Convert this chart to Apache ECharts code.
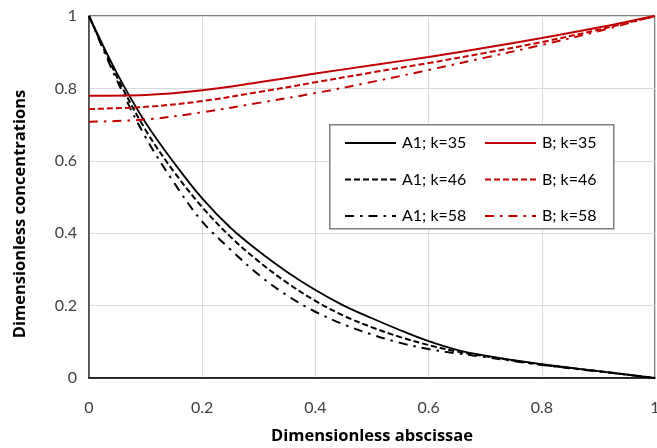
<!DOCTYPE html>
<html><head><meta charset="utf-8">
<script src="https://cdn.jsdelivr.net/npm/echarts@6/dist/echarts.min.js"></script>
<style>html,body{margin:0;padding:0;background:#fff}#c{width:657px;height:448px}</style>
</head><body><div id="c"></div>
<script>
var xA = [0, 0.05, 0.1, 0.15, 0.2, 0.25, 0.3, 0.35, 0.4, 0.45, 0.5, 0.55, 0.6, 0.65, 0.7, 0.8, 0.9, 1];
var a35 = [1, 0.84, 0.705, 0.595, 0.496, 0.415, 0.35, 0.293, 0.243, 0.2, 0.165, 0.132, 0.102, 0.078, 0.062, 0.038, 0.019, 0];
var a46 = [1, 0.83, 0.685, 0.57, 0.472, 0.39, 0.322, 0.263, 0.213, 0.172, 0.14, 0.113, 0.091, 0.073, 0.06, 0.037, 0.019, 0];
var a58 = [1, 0.82, 0.665, 0.54, 0.432, 0.355, 0.285, 0.228, 0.183, 0.148, 0.12, 0.097, 0.08, 0.068, 0.058, 0.036, 0.018, 0];
var xB = [0, 0.1, 0.2, 0.3, 0.4, 0.5, 0.6, 0.7, 0.8, 0.9, 1];
var b35 = [0.78, 0.782, 0.795, 0.817, 0.841, 0.864, 0.887, 0.912, 0.939, 0.968, 1];
var b46 = [0.743, 0.749, 0.765, 0.79, 0.817, 0.844, 0.87, 0.898, 0.928, 0.962, 1];
var b58 = [0.708, 0.714, 0.734, 0.76, 0.787, 0.818, 0.851, 0.885, 0.92, 0.958, 1];
var names = ['A1; k=35', 'A1; k=46', 'A1; k=58', 'B; k=35', 'B; k=46', 'B; k=58'];
var xTitle = 'Dimensionless abscissae';
var yTitle = 'Dimensionless concentrations';

function pairs(xs, ys) { return xs.map(function (x, i) { return [x, ys[i]]; }); }
var FONT = 'Lato';
var TFONT = 'Open Sans';
var RED = '#c00000';
var dashT = [6, 3];
var dashDotT = [9, 6, 2.5, 6];
function mk(name, xs, ys, color, type, w) {
  return { name: name, type: 'line', data: pairs(xs, ys), smooth: 0.35, symbol: 'none',
    lineStyle: { color: color, width: w, type: type }, itemStyle: { color: color } };
}
var legText = { fontFamily: FONT, fontSize: 16, color: '#000', padding: [0, 0, 0, 1] };
var chart = echarts.init(document.getElementById('c'));
chart.setOption({
  animation: false,
  textStyle: { fontFamily: FONT },
  grid: { left: 89, right: 2, top: 16, bottom: 70, show: true, borderColor: '#000', borderWidth: 1,
    containLabel: false, outerBoundsMode: 'none' },
  graphic: [{ type: 'rect', left: 329, top: 124, shape: { width: 284, height: 104 },
    style: { fill: '#fff', stroke: '#7f7f7f', lineWidth: 1.5 }, z: 5 }],
  legend: [
    { data: names.slice(0, 3), orient: 'vertical', left: 339, top: 130, itemWidth: 51, itemHeight: 14, itemGap: 20.5,
      itemStyle: { opacity: 0 }, textStyle: legText, z: 10 },
    { data: names.slice(3), orient: 'vertical', left: 479, top: 130, itemWidth: 51, itemHeight: 14, itemGap: 20.5,
      itemStyle: { opacity: 0 }, textStyle: legText, z: 10 }
  ],
  xAxis: { type: 'value', min: 0, max: 1, interval: 0.2, name: xTitle, nameLocation: 'middle', nameGap: 50,
    nameTextStyle: { fontFamily: TFONT, fontSize: 16.5, fontWeight: 'bold', color: '#000' },
    axisLine: { lineStyle: { color: '#000', width: 1.5 } }, axisTick: { show: false },
    axisLabel: { fontFamily: FONT, fontSize: 16, color: '#404040', margin: 22 },
    splitLine: { lineStyle: { color: '#d9d9d9', width: 1 } } },
  yAxis: { type: 'value', min: 0, max: 1, interval: 0.2, name: yTitle, nameLocation: 'middle', nameGap: 60,
    nameTextStyle: { fontFamily: TFONT, fontSize: 16.5, fontWeight: 'bold', color: '#000', padding: [0, 34, 0, 0] },
    axisLine: { show: true, lineStyle: { color: '#404040', width: 1.5 } }, axisTick: { show: false },
    axisLabel: { fontFamily: FONT, fontSize: 16, color: '#404040', margin: 12 },
    splitLine: { lineStyle: { color: '#d9d9d9', width: 1 } } },
  series: [
    mk(names[0], xA, a35, '#000', 'solid', 1.8),
    mk(names[1], xA, a46, '#000', dashT, 2),
    mk(names[2], xA, a58, '#000', dashDotT, 2),
    mk(names[3], xB, b35, RED, 'solid', 2),
    mk(names[4], xB, b46, RED, dashT, 2),
    mk(names[5], xB, b58, RED, dashDotT, 2)
  ]
});
</script></body></html>
